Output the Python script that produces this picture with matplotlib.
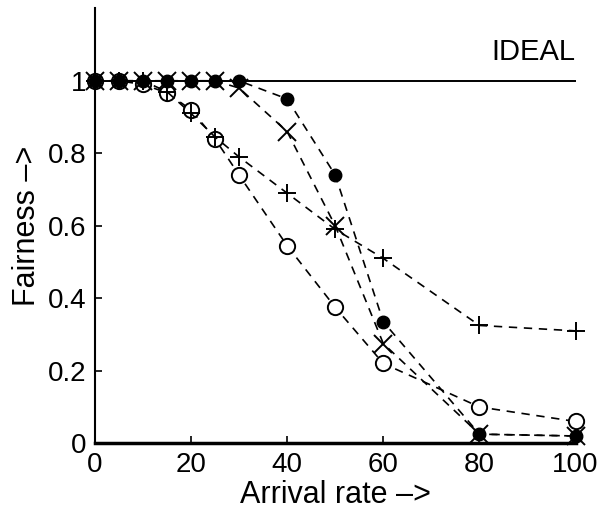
import matplotlib.pyplot as plt

plt.rcParams['font.family'] = ['Liberation Sans', 'DejaVu Sans']

arrival = [0, 5, 10, 15, 20, 25, 30, 40, 50, 60, 80, 100]

# four schemes
fair_dot = [1.0, 1.0, 1.0, 1.0, 1.0, 1.0, 1.0, 0.95, 0.74, 0.335, 0.025, 0.02]
fair_x = [1.0, 1.0, 1.0, 1.0, 1.0, 1.0, 0.98, 0.86, 0.60, 0.275, 0.025, 0.02]
fair_plus = [1.0, 1.0, 1.0, 0.97, 0.91, 0.845, 0.79, 0.69, 0.59, 0.51, 0.325, 0.31]
fair_circ = [1.0, 1.0, 0.99, 0.967, 0.92, 0.84, 0.74, 0.545, 0.375, 0.22, 0.10, 0.06]

xticks = [0, 20, 40, 60, 80, 100]
yticks = [0, 0.2, 0.4, 0.6, 0.8, 1.0]
ytick_labels = ["0", "0.2", "0.4", "0.6", "0.8", "1"]

fig = plt.figure(figsize=(6.04, 5.19), dpi=100)
ax = fig.add_axes([0.157, 0.146, 0.796, 0.838])

ax.plot([0, 100], [1, 1], "k-", lw=1.4)
ax.text(100, 1.04, "IDEAL", fontsize=21, ha="right", va="bottom")

style = dict(color="k", ls=(0, (5, 4)), lw=1.2, clip_on=False)
ax.plot(arrival, fair_circ, marker="o", ms=11, mfc="white", mec="k", mew=1.4, **style)
ax.plot(arrival, fair_plus, marker="+", ms=13, mew=1.4, **style)
ax.plot(arrival, fair_x, marker="x", ms=13, mew=1.4, **style)
ax.plot(arrival, fair_dot, marker="o", ms=9, mfc="k", mec="k", **style)

ax.set_xlim(0, 100)
ax.set_ylim(0, 1.2)
ax.set_xticks(xticks)
ax.set_yticks(yticks)
ax.set_yticklabels(ytick_labels)
ax.tick_params(direction="in", length=5, width=1.2, labelsize=20, pad=6)
for s in ("top", "right"):
    ax.spines[s].set_visible(False)
ax.spines["left"].set_linewidth(1.5)
ax.spines["bottom"].set_linewidth(2.5)

ax.set_xlabel("Arrival rate \u2013>", fontsize=22, labelpad=2)
ax.set_ylabel("Fairness \u2013>", fontsize=22, labelpad=4)

plt.savefig("out.png", dpi=100)
